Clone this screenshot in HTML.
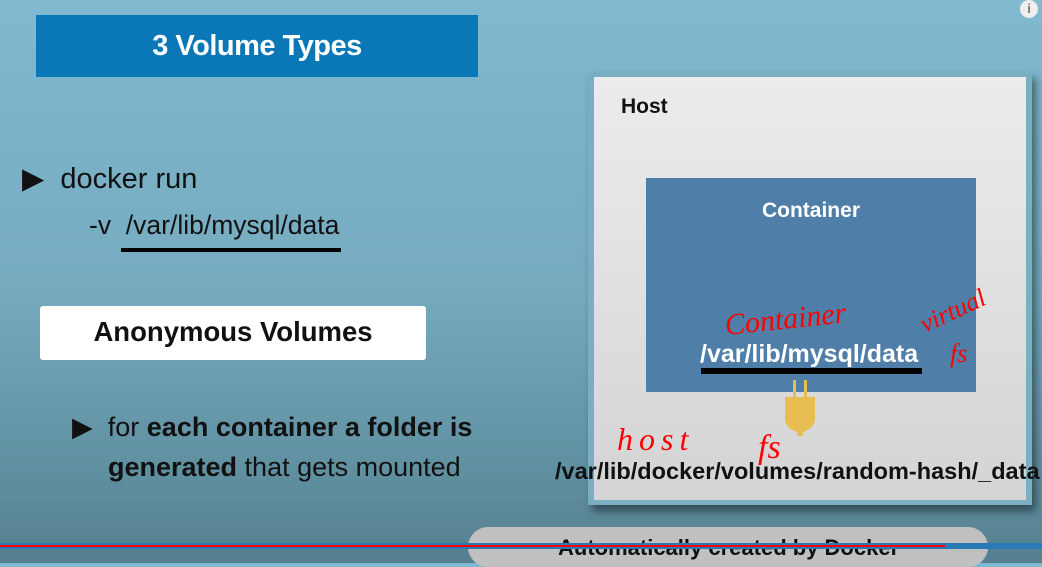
<!DOCTYPE html>
<html><head><meta charset="utf-8"><style>
body{margin:0;width:1042px;height:563px;overflow:hidden;position:relative;font-family:"Liberation Sans",sans-serif;background:linear-gradient(180deg,#80b9d0 0%,#76abc0 50%,#5f8f9f 85%,#557f8e 100%);}
.abs{position:absolute}
</style></head><body>
<div class="abs" style="left:36px;top:15px;width:442px;height:62px;background:#0a78b6;color:#fff;font-weight:bold;font-size:29px;line-height:62px;text-align:center;letter-spacing:-0.5px">3 Volume Types</div>
<div class="abs" style="left:22px;top:161px;font-size:29px;color:#111">▶&nbsp; docker run</div>
<div class="abs" style="left:89px;top:210px;font-size:26.5px;color:#111">-v&nbsp; /var/lib/mysql/data</div>
<div class="abs" style="left:121px;top:248px;width:220px;height:4px;background:#000"></div>
<div class="abs" style="left:40px;top:306px;width:386px;height:54px;background:#fff;border-radius:3px;font-size:27.5px;font-weight:bold;line-height:52px;text-align:center;color:#111">Anonymous Volumes</div>
<div class="abs" style="left:72px;top:407px;font-size:27px;color:#111;line-height:40px;white-space:nowrap">▶&nbsp; for <b>each container a folder is</b><br><span style="padding-left:36px"><b>generated</b> that gets mounted</span></div>
<div class="abs" style="left:588px;top:72px;width:444px;height:433px;background:#7aaec2;box-shadow:4px 6px 8px rgba(0,0,0,0.45)"></div>
<div class="abs" style="left:594px;top:77px;width:432px;height:423px;background:linear-gradient(180deg,#ececec,#d4d4d4)"></div>
<div class="abs" style="left:621px;top:95px;font-size:21px;font-weight:bold;color:#111">Host</div>
<div class="abs" style="left:646px;top:178px;width:330px;height:214px;background:#4f7fa8"></div>
<div class="abs" style="left:646px;top:199px;width:330px;text-align:center;font-size:21px;font-weight:bold;color:#fff">Container</div>
<div class="abs" style="left:700px;top:340px;font-size:25px;font-weight:bold;color:#fff">/var/lib/mysql/data</div>
<div class="abs" style="left:701px;top:368px;width:221px;height:6px;background:#000"></div>
<svg class="abs" style="left:0;top:0" width="1042" height="563">
<rect x="793" y="380" width="3" height="20" fill="#e8be52"/><rect x="804" y="380" width="3" height="20" fill="#e8be52"/>
<path d="M785 397 H815 V418 Q815 428 803 432 V436 H797 V432 Q785 428 785 418 Z" fill="#e8be52"/>
<text x="726" y="335" font-family="Liberation Serif,serif" font-style="italic" font-size="30" fill="#f00" transform="rotate(-6 726 335)">Container</text>
<text x="925" y="333" font-family="Liberation Serif,serif" font-style="italic" font-size="26" fill="#f00" transform="rotate(-25 925 333)">virtual</text>
<text x="950" y="362" font-family="Liberation Serif,serif" font-style="italic" font-size="26" fill="#f00">fs</text>
<text x="617" y="450" font-family="Liberation Serif,serif" font-style="italic" font-size="32" fill="#f00" letter-spacing="6">host</text>
<text x="758" y="458" font-family="Liberation Serif,serif" font-style="italic" font-size="34" fill="#f00">fs</text>
</svg>
<div class="abs" style="left:555px;top:458px;font-size:23.5px;font-weight:bold;color:#111;white-space:nowrap">/var/lib/docker/volumes/random-hash/_data</div>
<div class="abs" style="left:468px;top:527px;width:520px;height:40px;background:#c0c0c0;border-radius:20px"></div>
<div class="abs" style="left:558px;top:535px;font-size:22px;font-weight:bold;color:#111;white-space:nowrap">Automatically created by Docker</div>
<div class="abs" style="left:0;top:543px;width:1042px;height:6px;background:#2a7ab8"></div>
<div class="abs" style="left:0;top:545px;width:945px;height:2px;background:#f00"></div>
<div class="abs" style="left:1020px;top:0;width:18px;height:18px;border-radius:50%;background:#eee;color:#777;font-size:13px;text-align:center;line-height:18px;font-weight:bold">i</div>
</body></html>
